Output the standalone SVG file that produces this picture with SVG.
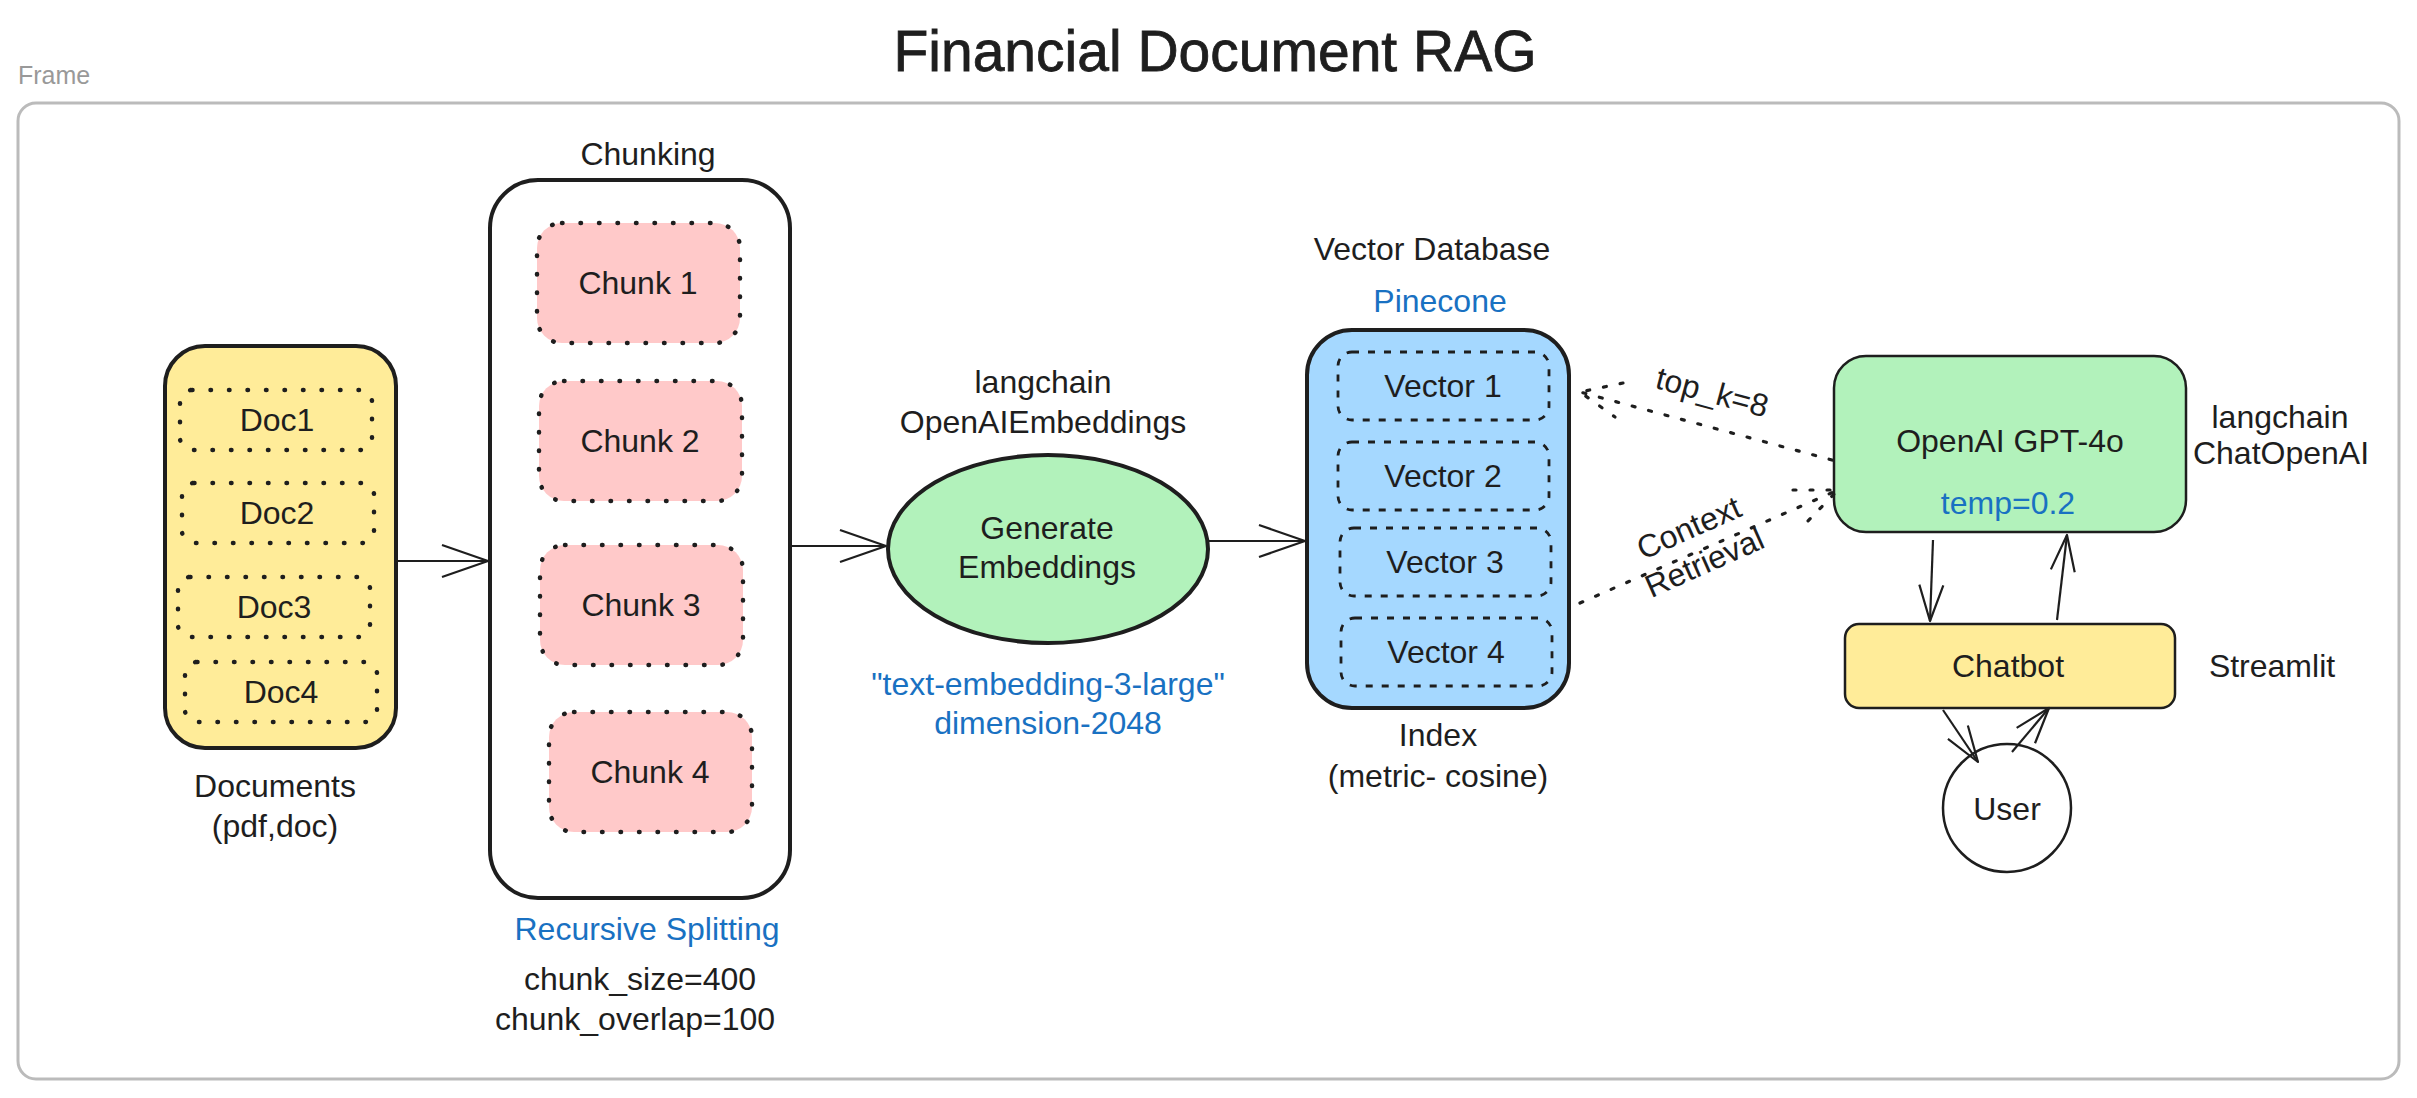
<svg xmlns="http://www.w3.org/2000/svg" width="2417" height="1098" viewBox="0 0 2417 1098">
<style>
  text { font-family: "Liberation Sans", Arial, sans-serif; font-size: 32px; fill: #1e1e1e; text-anchor: middle; }
  .title { font-size: 57px; stroke: #1e1e1e; stroke-width: 0.8; }
  .blue { fill: #1971c2; }
  .frame-label { font-size: 25px; fill: #999999; text-anchor: start; }
  .outer { stroke: #1e1e1e; stroke-width: 4; }
  .thin { stroke: #1e1e1e; stroke-width: 2.5; }
  .dotted { fill: none; stroke: #1e1e1e; stroke-width: 4.5; stroke-dasharray: 0.5 18; stroke-linecap: round; }
  .dashed { fill: none; stroke: #1e1e1e; stroke-width: 2.8; stroke-dasharray: 7 9; }
  .arrow { fill: none; stroke: #1e1e1e; stroke-width: 2.2; }
  .dotline { fill: none; stroke: #1e1e1e; stroke-width: 3.2; stroke-dasharray: 3 14; stroke-linecap: round; }
</style>
<defs>
  <marker id="ah" markerUnits="userSpaceOnUse" markerWidth="60" markerHeight="40" refX="0" refY="0" viewBox="-50 -20 60 40" orient="auto" overflow="visible">
    <path d="M-46,-16 L0,0 L-46,16" fill="none" stroke="#1e1e1e" stroke-width="2.2" stroke-linejoin="round"/>
  </marker>
  <marker id="ahs" markerUnits="userSpaceOnUse" markerWidth="50" markerHeight="30" refX="0" refY="0" viewBox="-40 -15 50 30" orient="auto" overflow="visible">
    <path d="M-36,-12 L0,0 L-36,12" fill="none" stroke="#1e1e1e" stroke-width="2.2" stroke-linejoin="round"/>
  </marker>
</defs>

<rect width="2417" height="1098" fill="#ffffff"/>

<!-- Frame -->
<g id="frame">
  <text class="frame-label" x="18" y="84">Frame</text>
  <rect x="18" y="103" width="2381" height="976" rx="18" fill="none" stroke="#bbbbbb" stroke-width="3"/>
</g>

<text id="title" class="title" x="1215" y="71">Financial Document RAG</text>

<!-- Documents -->
<g id="documents">
  <rect class="outer" x="165" y="346" width="231" height="402" rx="40" fill="#ffec99"/>
  <rect class="dotted" x="180" y="390" width="192" height="60" rx="12"/>
  <rect class="dotted" x="182" y="483" width="192" height="60" rx="12"/>
  <rect class="dotted" x="178" y="577" width="192" height="60" rx="12"/>
  <rect class="dotted" x="185" y="662" width="192" height="60" rx="12"/>
  <text x="277" y="431">Doc1</text>
  <text x="277" y="524">Doc2</text>
  <text x="274" y="618">Doc3</text>
  <text x="281" y="703">Doc4</text>
  <text x="275" y="797">Documents</text>
  <text x="275" y="837">(pdf,doc)</text>
</g>

<!-- Chunking -->
<g id="chunking">
  <text x="648" y="165">Chunking</text>
  <rect class="outer" x="490" y="180" width="300" height="718" rx="48" fill="#ffffff"/>
  <rect class="dotted" x="537" y="223" width="203" height="120" rx="25" style="fill:#ffc9c9"/>
  <rect class="dotted" x="539" y="381" width="203" height="120" rx="25" style="fill:#ffc9c9"/>
  <rect class="dotted" x="540" y="545" width="203" height="120" rx="25" style="fill:#ffc9c9"/>
  <rect class="dotted" x="549" y="712" width="203" height="120" rx="25" style="fill:#ffc9c9"/>
  <text x="638" y="294">Chunk 1</text>
  <text x="640" y="452">Chunk 2</text>
  <text x="641" y="616">Chunk 3</text>
  <text x="650" y="783">Chunk 4</text>
  <text class="blue" x="647" y="940">Recursive Splitting</text>
  <text x="640" y="990">chunk_size=400</text>
  <text x="635" y="1030">chunk_overlap=100</text>
</g>

<!-- Embeddings -->
<g id="embeddings">
  <text x="1043" y="393">langchain</text>
  <text x="1043" y="433">OpenAIEmbeddings</text>
  <ellipse class="outer" cx="1048" cy="549" rx="160" ry="94" fill="#b2f2bb"/>
  <text x="1047" y="539">Generate</text>
  <text x="1047" y="578">Embeddings</text>
  <text class="blue" x="1048" y="695">"text-embedding-3-large"</text>
  <text class="blue" x="1048" y="734">dimension-2048</text>
</g>

<!-- Vector DB -->
<g id="vectordb">
  <text x="1432" y="260">Vector Database</text>
  <text class="blue" x="1440" y="312">Pinecone</text>
  <rect class="outer" x="1307" y="330" width="262" height="378" rx="45" fill="#a5d8ff"/>
  <rect class="dashed" x="1338" y="352" width="211" height="68" rx="14"/>
  <rect class="dashed" x="1338" y="442" width="211" height="68" rx="14"/>
  <rect class="dashed" x="1340" y="528" width="211" height="68" rx="14"/>
  <rect class="dashed" x="1341" y="618" width="211" height="68" rx="14"/>
  <text x="1443" y="397">Vector 1</text>
  <text x="1443" y="487">Vector 2</text>
  <text x="1445" y="573">Vector 3</text>
  <text x="1446" y="663">Vector 4</text>
  <text x="1438" y="746">Index</text>
  <text x="1438" y="787">(metric- cosine)</text>
</g>

<!-- GPT -->
<g id="gpt">
  <rect class="thin" x="1834" y="356" width="352" height="176" rx="32" fill="#b2f2bb"/>
  <text x="2010" y="452">OpenAI GPT-4o</text>
  <text class="blue" x="2008" y="514">temp=0.2</text>
  <text x="2280" y="428">langchain</text>
  <text x="2281" y="464">ChatOpenAI</text>
</g>

<!-- Chatbot -->
<g id="chatbot">
  <rect class="thin" x="1845" y="624" width="330" height="84" rx="14" fill="#ffec99"/>
  <text x="2008" y="677">Chatbot</text>
  <text x="2272" y="677">Streamlit</text>
</g>

<!-- User -->
<g id="user">
  <circle class="thin" cx="2007" cy="808" r="64" fill="#ffffff"/>
  <text x="2007" y="820">User</text>
</g>

<!-- Connectors -->
<g id="connectors">
  <line class="arrow" x1="396" y1="561" x2="488" y2="561" marker-end="url(#ah)"/>
  <line class="arrow" x1="790" y1="546" x2="886" y2="546" marker-end="url(#ah)"/>
  <line class="arrow" x1="1208" y1="541" x2="1305" y2="541" marker-end="url(#ah)"/>
  <line class="arrow" x1="1933" y1="540" x2="1930" y2="621" marker-end="url(#ahs)"/>
  <line class="arrow" x1="2057" y1="620" x2="2067" y2="535" marker-end="url(#ahs)"/>
  <line class="arrow" x1="1943" y1="710" x2="1978" y2="762" marker-end="url(#ahs)"/>
  <line class="arrow" x1="2012" y1="752" x2="2049" y2="708" marker-end="url(#ahs)"/>
  <!-- top_k: GPT -> VDB -->
  <path class="dotline" d="M1832,460 L1580,392"/>
  <path class="dotline" d="M1623,383 L1580,392 L1615,417"/>
  <!-- Context Retrieval: VDB -> GPT -->
  <path class="dotline" d="M1580,603 L1838,490"/>
  <path class="dotline" d="M1793,490 L1838,490 L1807,522"/>
  <text transform="translate(1712,393) rotate(15)" y="10">top_k=8</text>
  <g transform="translate(1697,546) rotate(-24)">
    <text y="-9">Context</text>
    <text y="29">Retrieval</text>
  </g>
</g>
</svg>
